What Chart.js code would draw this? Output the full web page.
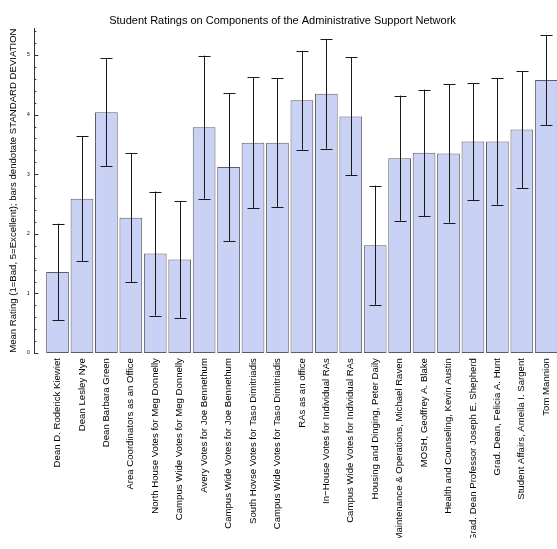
<!DOCTYPE html>
<html lang="en">
<head>
    <meta charset="UTF-8">
    <title>Student Ratings on Components of the Administrative Support Network</title>
    <script src="https://cdn.jsdelivr.net/npm/chart.js"></script>
    <style>
        body {
            margin: 0;
            background: #fff;
        }
        #wrap {
            width: 557px;
            height: 549px;
        }
    </style>
</head>
<body>

<div id="wrap"><canvas id="ratingsChart" width="557" height="549"></canvas></div>

<script>
    // Components rated by students
    const components = [
        'Dean D. Roderick Kiewiet',
        'Dean Lesley Nye',
        'Dean Barbara Green',
        'Area Coordinators as an Office',
        'North House Votes for Meg Donnelly',
        'Campus Wide Votes for Meg Donnelly',
        'Avery Votes for Joe Bennethum',
        'Campus Wide Votes for Joe Bennethum',
        'South Hovse Votes for Taso Dimitriadis',
        'Campus Wide Votes for Taso Dimitriadis',
        'RAs as an office',
        'In\u2212House Votes for Individual RAs',
        'Campus Wide Votes for Individual RAs',
        'Housing and Dinging, Peter Daily',
        'Maintenance & Operations, Michael Raven',
        'MOSH, Geoffrey A. Blake',
        'Health and Counseling, Kevin Austin',
        'Grad. Dean Professor Joseph E. Shepherd',
        'Grad. Dean, Felicia A. Hunt',
        'Student Affairs, Ameila I. Sargent',
        'Tom Mannion'
    ];

    // Mean rating (1=Bad, 5=Excellent)
    const meanRatings = [1.36, 2.59, 4.04, 2.27, 1.67, 1.57, 3.79, 3.12, 3.53, 3.53, 4.24,
                         4.35, 3.97, 1.81, 3.27, 3.36, 3.35, 3.55, 3.55, 3.75, 4.58];

    // Standard deviation (error bar half length)
    const stdDevs = [0.81, 1.05, 0.91, 1.08, 1.04, 0.98, 1.20, 1.24, 1.10, 1.08, 0.83,
                     0.92, 0.99, 1.00, 1.05, 1.06, 1.16, 0.98, 1.06, 0.98, 0.76];

    const font = 'Liberation Sans, Arial, sans-serif';

    // error bars + inward y ticks
    const errorBars = {
        id: 'errorBars',
        afterDatasetsDraw(chart) {
            const ctx = chart.ctx;
            const x = chart.scales.x;
            const y = chart.scales.y;
            ctx.save();
            ctx.strokeStyle = '#1a1a1a';
            ctx.lineWidth = 1;
            meanRatings.forEach((m, i) => {
                const px = Math.round(x.getPixelForValue(i)) + 0.5;
                const top = y.getPixelForValue(m + stdDevs[i]);
                const bot = y.getPixelForValue(m - stdDevs[i]);
                ctx.beginPath();
                ctx.moveTo(px, top);
                ctx.lineTo(px, bot);
                ctx.moveTo(px - 6, Math.round(top) + 0.5);
                ctx.lineTo(px + 6, Math.round(top) + 0.5);
                ctx.moveTo(px - 6, Math.round(bot) + 0.5);
                ctx.lineTo(px + 6, Math.round(bot) + 0.5);
                ctx.stroke();
            });

            // tick marks pointing into the plot
            const left = chart.chartArea.left;
            ctx.strokeStyle = '#333';
            y.ticks.forEach(t => {
                const py = Math.round(y.getPixelForValue(t.value)) + 0.5;
                const major = Math.abs(t.value - Math.round(t.value)) < 1e-6;
                ctx.beginPath();
                ctx.moveTo(left, py);
                ctx.lineTo(left + (major ? 4 : 2), py);
                ctx.stroke();
            });
            ctx.restore();
        }
    };

    const ctx = document.getElementById('ratingsChart').getContext('2d');
    new Chart(ctx, {
        type: 'bar',
        data: {
            datasets: [{
                data: meanRatings.map((v, i) => ({ x: i, y: v })),
                backgroundColor: '#c9d1f5',
                borderColor: '#5c5c66',
                borderWidth: 1,
                borderSkipped: false,
                categoryPercentage: 1,
                barPercentage: 0.93
            }]
        },
        options: {
            responsive: false,
            animation: false,
            layout: {
                padding: { left: 8, right: 0, top: 0, bottom: 11 }
            },
            plugins: {
                legend: { display: false },
                tooltip: { enabled: false },
                title: {
                    display: true,
                    text: 'Student Ratings on Components of the Administrative Support Network',
                    color: '#000',
                    font: { family: font, size: 11, weight: 'normal' },
                    padding: { top: 14, bottom: 1 }
                }
            },
            scales: {
                x: {
                    type: 'linear',
                    bounds: 'data',
                    offset: false,
                    min: -0.95,
                    max: 20.44,
                    grid: { display: false },
                    border: { display: false },
                    ticks: {
                        autoSkip: false,
                        maxRotation: 90,
                        minRotation: 90,
                        padding: -3,
                        color: '#000',
                        font: { family: font, size: 9.6 },
                        callback: v => components[v]
                    },
                    // one tick per component
                    afterBuildTicks: s => { s.ticks = components.map((c, i) => ({ value: i })); },
                    afterFit: s => { s.paddingLeft = 0; s.paddingRight = 0; }
                },
                y: {
                    min: 0,
                    max: 5.45,
                    grid: { display: false, drawTicks: false },
                    border: { display: true, color: '#333', width: 1 },
                    ticks: {
                        stepSize: 0.2,
                        autoSkip: false,
                        includeBounds: false,
                        padding: 4.5,
                        color: '#000',
                        font: { family: font, size: 5 },
                        callback: v => Math.abs(v - Math.round(v)) < 1e-6 ? String(Math.round(v)) : ''
                    },
                    title: {
                        display: true,
                        text: 'Mean Rating (1=Bad, 5=Excellent); bars dendotate STANDARD DEVIATION',
                        color: '#000',
                        font: { family: font, size: 9.6 },
                        padding: { top: 0, bottom: 3 }
                    }
                }
            }
        },
        plugins: [errorBars]
    });
</script>

</body>
</html>
